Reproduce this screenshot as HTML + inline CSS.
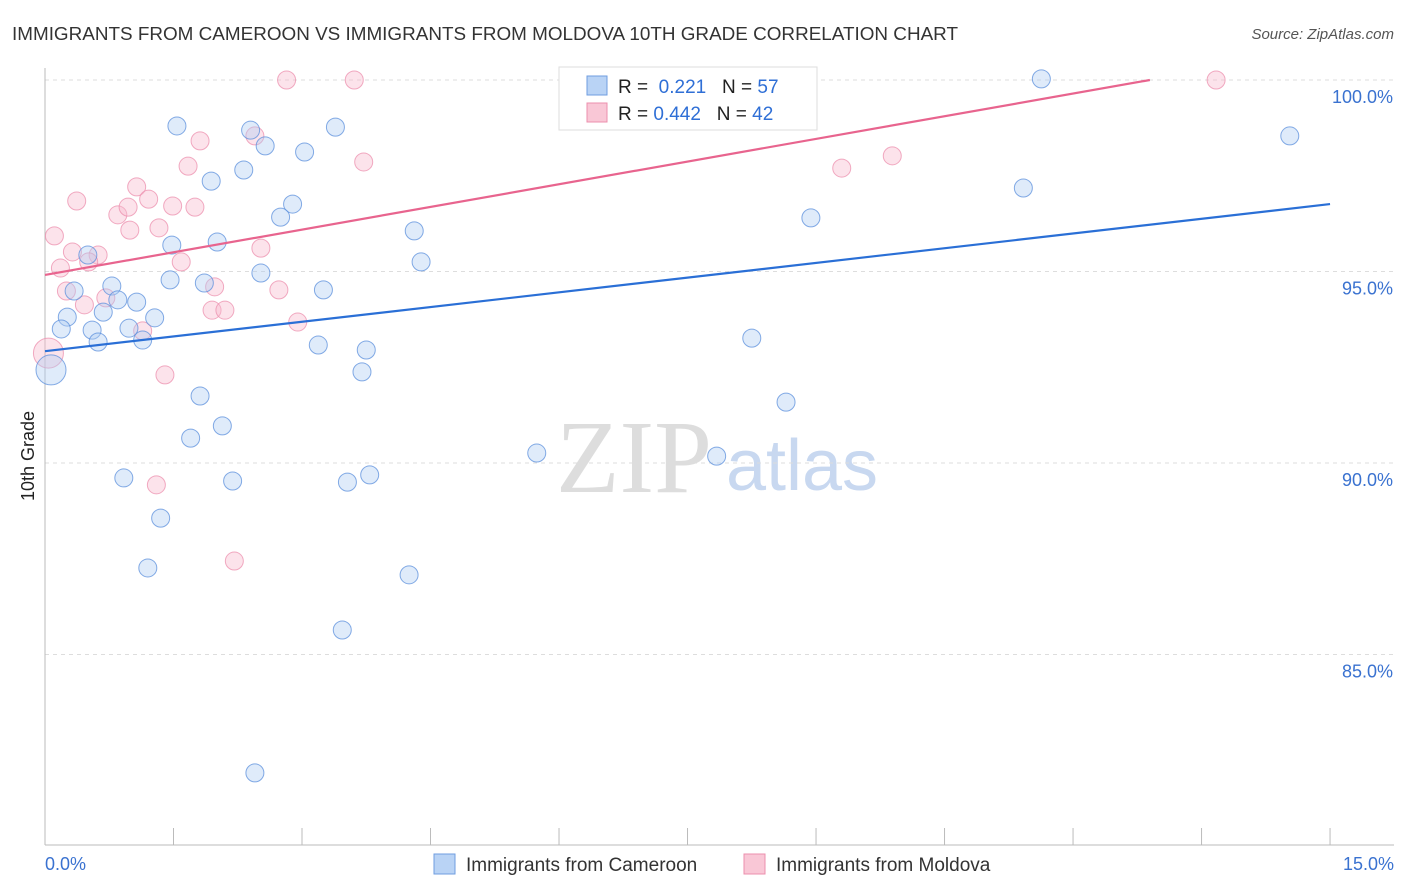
<!DOCTYPE html>
<html><head><meta charset="utf-8">
<style>
body{margin:0;background:#fff;font-family:"Liberation Sans",sans-serif;}
#wrap{position:relative;width:1406px;height:892px;overflow:hidden}
</style></head>
<body>
<div id="wrap">
<svg id="svg" width="1406" height="892" xmlns="http://www.w3.org/2000/svg">
<text x="12" y="40" font-size="18" fill="#333" textLength="946" lengthAdjust="spacingAndGlyphs">IMMIGRANTS FROM CAMEROON VS IMMIGRANTS FROM MOLDOVA 10TH GRADE CORRELATION CHART</text>
<text x="1394" y="39" font-size="15" fill="#555" text-anchor="end" font-style="italic">Source: ZipAtlas.com</text>
<text x="634" y="492" font-size="104" fill="#ddd" font-family="Liberation Serif,serif" text-anchor="middle">ZIP</text>
<text x="802" y="490" font-size="72" fill="#c8d8f0" text-anchor="middle">atlas</text>
<text transform="translate(34,456) rotate(-90)" font-size="18" fill="#222" text-anchor="middle">10th Grade</text>
<g id="grid"></g><g id="ticks"></g><g id="pts"></g><g id="lines"></g>
<g>
<rect x="559" y="67" width="258" height="63" fill="#fff" stroke="#ddd"/>
<rect x="587" y="76" width="20" height="19" fill="#b9d3f5" stroke="#6f9ee0"/>
<rect x="587" y="103" width="20" height="19" fill="#f9c7d6" stroke="#ec8fad"/>
<text x="618" y="93" font-size="19" fill="#222">R = <tspan fill="#2f6fd6">&#160;0.221</tspan>&#160;&#160;&#160;N = <tspan fill="#2f6fd6">57</tspan></text>
<text x="618" y="120" font-size="19" fill="#222">R = <tspan fill="#2f6fd6">0.442</tspan>&#160;&#160;&#160;N = <tspan fill="#2f6fd6">42</tspan></text>
</g>
<g>
<rect x="434" y="854" width="21" height="20" fill="#b9d3f5" stroke="#6f9ee0"/>
<text x="466" y="871" font-size="19" fill="#333">Immigrants from Cameroon</text>
<rect x="744" y="854" width="21" height="20" fill="#f9c7d6" stroke="#ec8fad"/>
<text x="776" y="871" font-size="19" fill="#333">Immigrants from Moldova</text>
</g>
<text x="45" y="870" font-size="18" fill="#3a72d0">0.0%</text>
<text x="1394" y="870" font-size="18" fill="#3a72d0" text-anchor="end">15.0%</text>
</svg>
</div>
<script>
const yTicks=[100,95,90,85];
const yTickLabels=["100.0%","95.0%","90.0%","85.0%"];
const blueX=[1.54,2.57,2.40,3.03,3.39,1.94,2.32,2.89,2.75,1.48,2.01,0.50,4.31,4.39,2.52,1.46,1.86,0.78,0.34,0.85,1.07,3.25,0.68,1.28,0.26,0.19,0.55,0.98,1.14,0.62,3.19,3.75,3.70,0.07,1.81,2.07,1.70,5.74,7.84,0.92,2.19,3.53,3.79,1.35,1.20,4.25,3.47,2.45,8.25,8.65,8.94,11.42,11.63,14.53];
const blueY=[98.80,98.28,98.69,98.12,98.77,97.36,97.65,96.76,96.42,95.69,95.77,95.43,96.06,95.25,94.96,94.78,94.70,94.62,94.49,94.26,94.20,94.52,93.94,93.79,93.81,93.50,93.47,93.52,93.21,93.16,93.08,92.95,92.38,92.43,91.75,90.97,90.65,90.26,90.18,89.61,89.53,89.50,89.69,88.56,87.26,87.08,85.64,81.91,93.26,91.59,96.40,97.18,100.03,98.54];
const pinkX=[2.82,3.61,7.97,13.67,1.81,3.72,1.67,9.30,9.89,1.07,0.37,1.21,0.85,0.97,1.49,1.75,1.33,0.99,0.11,2.52,0.32,0.62,0.51,1.59,0.18,1.98,2.73,0.25,0.71,0.46,1.95,2.10,2.95,1.14,0.04,1.40,1.30,2.21,2.45];
const pinkY=[100,100,100,100,98.41,97.86,97.75,97.70,98.02,97.21,96.84,96.89,96.48,96.68,96.71,96.68,96.14,96.08,95.93,95.61,95.51,95.43,95.25,95.25,95.09,94.60,94.52,94.49,94.31,94.13,93.99,93.99,93.68,93.45,92.87,92.30,89.43,87.44,98.54];
const blueTrend=[92.92,96.76];
const pinkTrend=[94.91,100.83];
const NS="http://www.w3.org/2000/svg";
const sx=v=>45+v*85.67, sy=v=>80+(100-v)*38.3;
function mk(t,a,p){const e=document.createElementNS(NS,t);for(const k in a)e.setAttribute(k,a[k]);p.appendChild(e);return e;}
const grid=document.getElementById('grid'),ticks=document.getElementById('ticks'),pts=document.getElementById('pts'),lines=document.getElementById('lines');
yTicks.forEach((t,i)=>{
 const l=mk('line',{x1:45,x2:1394,y1:sy(t),y2:sy(t),stroke:'#ddd','stroke-dasharray':'4,4'},grid);
 
 
 const tx=mk('text',{x:1393,y:sy(t)+23,'font-size':18,fill:'#3a72d0','text-anchor':'end'},ticks);
 tx.textContent=yTickLabels[i];
 
 
});
const ax=mk('line',{x1:45,x2:45,y1:68,y2:845,stroke:'#bbb'},ticks);


const bx=mk('line',{x1:45,x2:1394,y1:845,y2:845,stroke:'#bbb'},ticks);


for(let i=1;i<=10;i++){const v=i*1.5;const t=mk('line',{x1:sx(v),x2:sx(v),y1:828,y2:845,stroke:'#bbb'},ticks);
 
 }
function dots(X,Y,fill,stroke,name){X.forEach((x,i)=>{const r=x<0.1?15:9;
 const c=mk('circle',{cx:sx(x),cy:sy(Y[i]),r:r,fill:fill,'fill-opacity':0.4,stroke:stroke,'stroke-opacity':0.75,'stroke-width':1},pts);
 
 });}
dots(pinkX,pinkY,'#f7b9cc','#ec8fad','moldova-point');
dots(blueX,blueY,'#b0cdf3','#5b8fdc','cameroon-point');
const bl=mk('line',{x1:sx(0),y1:sy(blueTrend[0]),x2:sx(15),y2:sy(blueTrend[1]),stroke:'#2a6fd6','stroke-width':2.2},lines);


let px2=15,py2=pinkTrend[1];
if(py2>100){px2=15*(100-pinkTrend[0])/(pinkTrend[1]-pinkTrend[0]);py2=100;}
const pl=mk('line',{x1:sx(0),y1:sy(pinkTrend[0]),x2:sx(px2),y2:sy(py2),stroke:'#e8648e','stroke-width':2.2},lines);


</script>
</body></html>
